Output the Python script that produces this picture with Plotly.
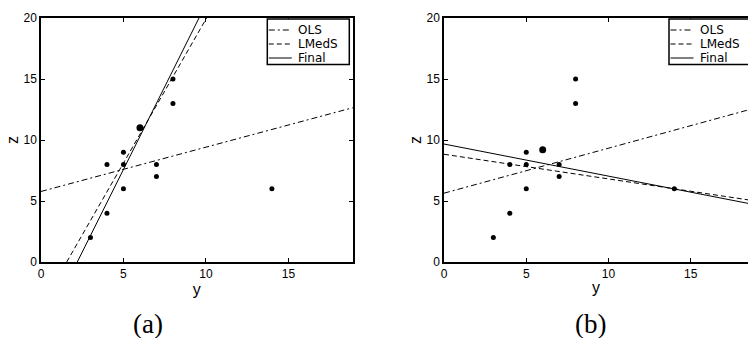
import plotly.graph_objects as go

# ---- data ----
pts_y = [3, 4, 4, 5, 5, 5, 7, 7, 8, 8, 14]
pts_z = [2, 4, 8, 6, 8, 9, 7, 8, 13, 15, 6]
big_y_a = [6]
big_z_a = [11]
big_y_b = [6]
big_z_b = [9.2]

# fitted lines, panel (a): endpoints (y, z)
ols_a_y = [0, 19]
ols_a_z = [5.78, 12.68]
lmeds_a_y = [1.56, 10.04]
lmeds_a_z = [0, 20]
final_a_y = [2.2, 9.58]
final_a_z = [0, 20]

# fitted lines, panel (b)
ols_b_y = [0, 19]
ols_b_z = [5.64, 12.65]
lmeds_b_y = [0, 19]
lmeds_b_z = [8.83, 4.99]
final_b_y = [0, 19]
final_b_z = [9.67, 4.67]

x_ticks = [0, 5, 10, 15]
z_ticks = [0, 5, 10, 15, 20]
series_names = ["OLS", "LMedS", "Final"]
captions = ["(a)", "(b)"]

SANS = "Liberation Sans, Arial, sans-serif"
LEG_FONT = "DejaVu Sans, sans-serif"
DASH_DOT = "6px,3px,2px,3px"
DASH = "5px,3px"
STYLES = [DASH_DOT, DASH, "solid"]

W, H = 748, 338
L, R, T, B = 41, 0, 18, 76
pw = W - L - R
ph = H - T - B

def px(xpix):
    return (xpix - L) / pw

def py(ypix):
    return (H - B - ypix) / ph

fig = go.Figure()

def add_panel(xa, ya, pyy, pzz, by, bz, lines):
    for name, (lx, lz), dash in zip(series_names, lines, STYLES):
        fig.add_trace(go.Scatter(x=lx, y=lz, mode="lines", name=name, showlegend=False,
                                 line=dict(color="black", width=1, dash=dash),
                                 xaxis=xa, yaxis=ya))
    fig.add_trace(go.Scatter(x=pyy, y=pzz, mode="markers", showlegend=False,
                             marker=dict(color="black", size=5),
                             xaxis=xa, yaxis=ya))
    fig.add_trace(go.Scatter(x=by, y=bz, mode="markers", showlegend=False,
                             marker=dict(color="black", size=7),
                             xaxis=xa, yaxis=ya))

add_panel("x", "y", pts_y, pts_z, big_y_a, big_z_a,
          [(ols_a_y, ols_a_z), (lmeds_a_y, lmeds_a_z), (final_a_y, final_a_z)])
add_panel("x2", "y2", pts_y, pts_z, big_y_b, big_z_b,
          [(ols_b_y, ols_b_z), (lmeds_b_y, lmeds_b_z), (final_b_y, final_b_z)])

axis_common = dict(showline=True, linecolor="black", linewidth=1.5,
                   ticks="inside", ticklen=4, tickwidth=1, tickcolor="black",
                   showgrid=False, zeroline=False,
                   tickfont=dict(family=SANS, size=12, color="black"))
title_font = dict(family=SANS, size=16, color="black")

fig.update_layout(
    width=W, height=H,
    margin=dict(l=L, r=R, t=T, b=B, autoexpand=False),
    paper_bgcolor="white", plot_bgcolor="white",
    showlegend=False,
    xaxis=dict(domain=[0, px(352.7)], range=[0, 18.9], anchor="y",
               tickvals=x_ticks, mirror="ticks",
               title=dict(text="y", font=title_font, standoff=2), **axis_common),
    yaxis=dict(domain=[0, 1], range=[0, 20], anchor="x",
               tickvals=z_ticks, mirror="ticks",
               title=dict(text="z", font=title_font, standoff=1), **axis_common),
    xaxis2=dict(domain=[px(444), 1], range=[0, 18.48], anchor="y2",
                tickvals=x_ticks, mirror="ticks",
                title=dict(text="y", font=title_font, standoff=2), **axis_common),
    yaxis2=dict(domain=[0, 1], range=[0, 20], anchor="x2",
                tickvals=z_ticks, mirror=False,
                title=dict(text="z", font=title_font, standoff=1), **axis_common),
)

# legends (drawn as boxes with line samples and labels)
row_y = [30, 44, 58]
for box_left in [267.3, 669]:
    fig.add_shape(type="rect", xref="paper", yref="paper",
                  x0=px(box_left), x1=px(box_left + 82), y0=py(19), y1=py(64.5),
                  line=dict(color="black", width=1.5), fillcolor="white", layer="above")
    for name, dash, ry in zip(series_names, STYLES, row_y):
        fig.add_shape(type="line", xref="paper", yref="paper",
                      x0=px(box_left + 1.5), x1=px(box_left + 24.5), y0=py(ry), y1=py(ry),
                      line=dict(color="black", width=1, dash=dash), layer="above")
        fig.add_annotation(text=name, xref="paper", yref="paper",
                           x=px(box_left + 29.5), y=py(ry), xanchor="left", yanchor="middle",
                           showarrow=False, borderpad=0,
                           font=dict(family=LEG_FONT, size=12, color="black"))

for cap, cx in zip(captions, [148, 590]):
    fig.add_annotation(text=cap, xref="paper", yref="paper",
                       x=px(cx), y=py(324),
                       xanchor="center", yanchor="middle", showarrow=False,
                       font=dict(family="Liberation Serif, serif", size=27, color="black"))

fig.write_html("out.html", post_script="document.body.style.margin='0';",
               config={"displayModeBar": False})
